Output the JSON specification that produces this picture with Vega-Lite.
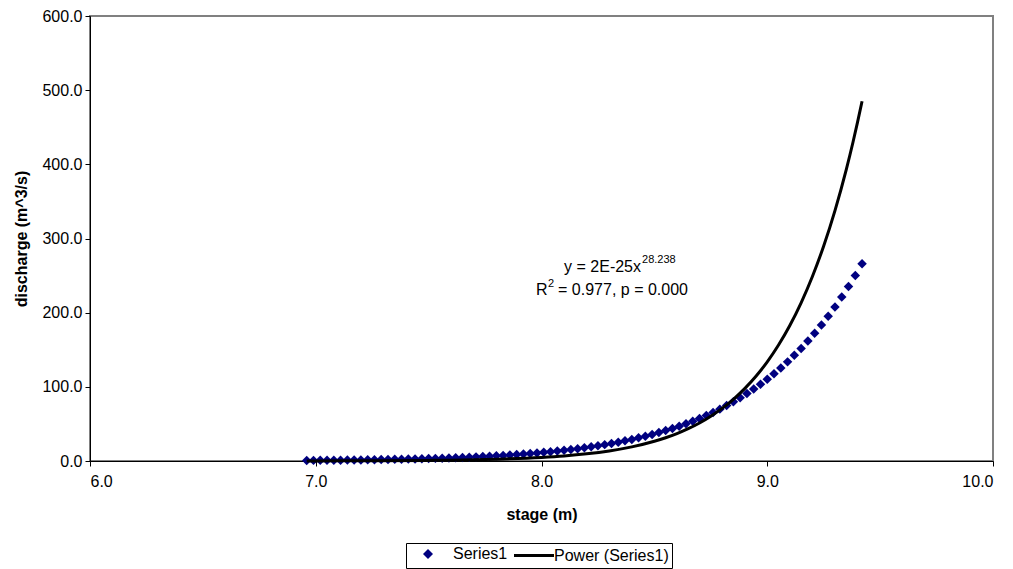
{
  "$schema": "https://vega.github.io/schema/vega-lite/v6.json",
  "width": 903,
  "height": 445,
  "autosize": {"type": "none"},
  "padding": {"left": 90, "top": 16, "right": 20, "bottom": 108},
  "background": "#ffffff",
  "config": {
    "font": "Liberation Sans",
    "view": {"stroke": "#808080", "strokeWidth": 2},
    "axis": {
      "grid": false,
      "domainColor": "#000000",
      "domainWidth": 1,
      "tickColor": "#000000",
      "tickSize": 5,
      "labelColor": "#000000",
      "titleColor": "#000000",
      "labelFont": "Liberation Sans",
      "titleFont": "Liberation Sans",
      "labelFontSize": 16,
      "titleFontSize": 16,
      "titleFontWeight": "bold"
    }
  },
  "datasets": {
    "obs": [
      {"stage": 6.96, "discharge": 0.77}, {"stage": 6.99, "discharge": 0.84}, {"stage": 7.02, "discharge": 0.91},
      {"stage": 7.05, "discharge": 0.99}, {"stage": 7.08, "discharge": 1.08}, {"stage": 7.11, "discharge": 1.17},
      {"stage": 7.14, "discharge": 1.27}, {"stage": 7.17, "discharge": 1.37}, {"stage": 7.20, "discharge": 1.49},
      {"stage": 7.23, "discharge": 1.61}, {"stage": 7.26, "discharge": 1.75}, {"stage": 7.29, "discharge": 1.89},
      {"stage": 7.32, "discharge": 2.05}, {"stage": 7.35, "discharge": 2.21}, {"stage": 7.38, "discharge": 2.39},
      {"stage": 7.41, "discharge": 2.59}, {"stage": 7.44, "discharge": 2.80}, {"stage": 7.47, "discharge": 3.03},
      {"stage": 7.50, "discharge": 3.27}, {"stage": 7.53, "discharge": 3.53}, {"stage": 7.56, "discharge": 3.81},
      {"stage": 7.59, "discharge": 4.12}, {"stage": 7.62, "discharge": 4.44}, {"stage": 7.65, "discharge": 4.79},
      {"stage": 7.68, "discharge": 5.17}, {"stage": 7.71, "discharge": 5.57}, {"stage": 7.74, "discharge": 6.00},
      {"stage": 7.77, "discharge": 6.47}, {"stage": 7.80, "discharge": 6.97}, {"stage": 7.83, "discharge": 7.50},
      {"stage": 7.86, "discharge": 8.08}, {"stage": 7.89, "discharge": 8.70}, {"stage": 7.92, "discharge": 9.36},
      {"stage": 7.95, "discharge": 10.07}, {"stage": 7.98, "discharge": 10.82}, {"stage": 8.01, "discharge": 11.64},
      {"stage": 8.04, "discharge": 12.51}, {"stage": 8.07, "discharge": 13.44}, {"stage": 8.10, "discharge": 14.44},
      {"stage": 8.13, "discharge": 15.50}, {"stage": 8.16, "discharge": 16.65}, {"stage": 8.19, "discharge": 17.87},
      {"stage": 8.22, "discharge": 19.18}, {"stage": 8.25, "discharge": 20.57}, {"stage": 8.28, "discharge": 22.07},
      {"stage": 8.31, "discharge": 23.66}, {"stage": 8.34, "discharge": 25.36}, {"stage": 8.37, "discharge": 27.18},
      {"stage": 8.40, "discharge": 29.13}, {"stage": 8.43, "discharge": 31.20}, {"stage": 8.46, "discharge": 33.42},
      {"stage": 8.49, "discharge": 35.78}, {"stage": 8.52, "discharge": 38.30}, {"stage": 8.55, "discharge": 40.99},
      {"stage": 8.58, "discharge": 43.86}, {"stage": 8.61, "discharge": 46.91}, {"stage": 8.64, "discharge": 50.17},
      {"stage": 8.67, "discharge": 53.64}, {"stage": 8.70, "discharge": 57.33}, {"stage": 8.73, "discharge": 61.28},
      {"stage": 8.76, "discharge": 65.47}, {"stage": 8.79, "discharge": 69.94}, {"stage": 8.82, "discharge": 74.69},
      {"stage": 8.85, "discharge": 79.75}, {"stage": 8.88, "discharge": 85.13}, {"stage": 8.91, "discharge": 90.86},
      {"stage": 8.94, "discharge": 96.94}, {"stage": 8.97, "discharge": 103.42}, {"stage": 9.00, "discharge": 110.30},
      {"stage": 9.03, "discharge": 117.62}, {"stage": 9.06, "discharge": 125.40}, {"stage": 9.09, "discharge": 133.66},
      {"stage": 9.12, "discharge": 142.44}, {"stage": 9.15, "discharge": 151.74}, {"stage": 9.18, "discharge": 161.64},
      {"stage": 9.21, "discharge": 172.15}, {"stage": 9.24, "discharge": 183.30}, {"stage": 9.27, "discharge": 195.14},
      {"stage": 9.30, "discharge": 207.70}, {"stage": 9.33, "discharge": 221.01}, {"stage": 9.36, "discharge": 235.14},
      {"stage": 9.39, "discharge": 250.11}, {"stage": 9.42, "discharge": 266.00}
    ],
    "fit": [
      {"stage": 6.96, "discharge": 0.09}, {"stage": 7.0, "discharge": 0.11}, {"stage": 7.25, "discharge": 0.30},
      {"stage": 7.5, "discharge": 0.78}, {"stage": 7.75, "discharge": 1.96}, {"stage": 8.0, "discharge": 4.81},
      {"stage": 8.1, "discharge": 6.82}, {"stage": 8.2, "discharge": 9.65}, {"stage": 8.3, "discharge": 13.6},
      {"stage": 8.4, "discharge": 19.06}, {"stage": 8.5, "discharge": 26.6}, {"stage": 8.55, "discharge": 31.4},
      {"stage": 8.6, "discharge": 37.0}, {"stage": 8.65, "discharge": 43.6}, {"stage": 8.7, "discharge": 51.3},
      {"stage": 8.75, "discharge": 60.4}, {"stage": 8.8, "discharge": 70.9}, {"stage": 8.85, "discharge": 83.2},
      {"stage": 8.9, "discharge": 97.6}, {"stage": 8.95, "discharge": 114.3}, {"stage": 9.0, "discharge": 133.7},
      {"stage": 9.05, "discharge": 156.4}, {"stage": 9.1, "discharge": 182.7}, {"stage": 9.15, "discharge": 213.3},
      {"stage": 9.2, "discharge": 248.8}, {"stage": 9.25, "discharge": 289.9}, {"stage": 9.3, "discharge": 337.6},
      {"stage": 9.35, "discharge": 392.9}, {"stage": 9.38, "discharge": 430.1}, {"stage": 9.4, "discharge": 456.8},
      {"stage": 9.42, "discharge": 485.0}
    ],
    "note": [{"stage": 8.1, "discharge": 255}]
  },
  "encoding": {
    "x": {
      "field": "stage",
      "type": "quantitative",
      "scale": {"domain": [6, 10], "nice": false, "zero": false},
      "axis": {"title": "stage (m)", "values": [6, 7, 8, 9, 10], "format": ".1f", "labelPadding": 7, "titlePadding": 17}
    },
    "y": {
      "field": "discharge",
      "type": "quantitative",
      "scale": {"domain": [0, 600], "nice": false},
      "axis": {"title": "discharge (m^3/s)", "values": [0, 100, 200, 300, 400, 500, 600], "format": ".1f", "labelPadding": 3, "titlePadding": 12}
    }
  },
  "layer": [
    {
      "data": {"name": "obs"},
      "mark": {"type": "point", "shape": "diamond", "filled": true, "size": 90, "opacity": 1, "color": "#000080"}
    },
    {
      "data": {"name": "fit"},
      "mark": {"type": "line", "strokeWidth": 3, "interpolate": "monotone", "color": "#000000"},
      "encoding": {}
    },
    {
      "data": {"name": "note"},
      "mark": {"type": "point", "filled": true, "opacity": 0, "size": 100},
      "encoding": {
        "shape": {
          "datum": "Series1",
          "type": "nominal",
          "scale": {"domain": ["Series1", "Power (Series1)"], "range": ["M1.2,0L2.2,-1L3.2,0L2.2,1Z", "M-0.8,0L7.2,0"]},
          "legend": {
            "orient": "none",
            "legendX": 316,
            "legendY": 527,
            "direction": "horizontal",
            "title": null,
            "strokeColor": "#000000",
            "fillColor": "#ffffff",
            "padding": 3,
            "labelFontSize": 16,
            "labelFont": "Liberation Sans",
            "labelColor": "#000000",
            "labelOffset": 28,
            "columnPadding": 0,
            "symbolSize": 100,
            "symbolOpacity": 1,
            "symbolStrokeWidth": 3
          }
        },
        "fill": {
          "datum": "Series1",
          "type": "nominal",
          "scale": {"domain": ["Series1", "Power (Series1)"], "range": ["#000080", "transparent"]}
        },
        "stroke": {
          "datum": "Series1",
          "type": "nominal",
          "scale": {"domain": ["Series1", "Power (Series1)"], "range": ["transparent", "#000000"]}
        }
      }
    },
    {
      "data": {"name": "note"},
      "mark": {"type": "text", "align": "left", "baseline": "alphabetic", "fontSize": 16, "color": "#000000", "text": "y = 2E-25x"}
    },
    {
      "data": {"name": "note"},
      "mark": {"type": "text", "align": "left", "baseline": "alphabetic", "fontSize": 11, "color": "#000000", "dx": 78, "dy": -9, "text": "28.238"}
    },
    {
      "data": {"name": "note"},
      "mark": {"type": "text", "align": "left", "baseline": "alphabetic", "fontSize": 16, "color": "#000000", "dx": -28, "dy": 23, "text": "R"}
    },
    {
      "data": {"name": "note"},
      "mark": {"type": "text", "align": "left", "baseline": "alphabetic", "fontSize": 11, "color": "#000000", "dx": -16, "dy": 15, "text": "2"}
    },
    {
      "data": {"name": "note"},
      "mark": {"type": "text", "align": "left", "baseline": "alphabetic", "fontSize": 16, "color": "#000000", "dx": -6, "dy": 23, "text": " = 0.977, p = 0.000"}
    }
  ]
}
